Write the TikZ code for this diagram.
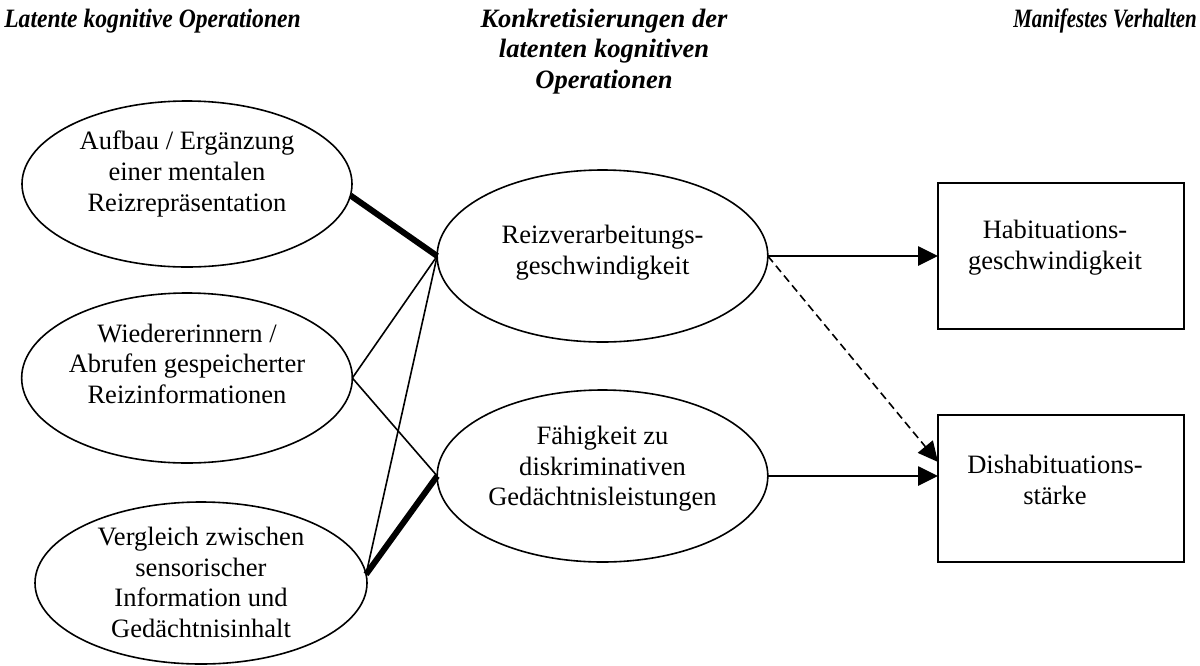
\documentclass[tikz,border=0pt]{standalone}
\usepackage{fontspec}
\usepackage{graphicx}
\setmainfont{Liberation Serif}
\usetikzlibrary{shapes.geometric,arrows.meta}
\newcommand{\ctext}[3]{\smash{\raisebox{#2}{\makebox[0pt]{\hspace*{#1}\begin{tabular}{@{}c@{}}#3\end{tabular}}}}}
\begin{document}
\begin{tikzpicture}[x=0.75pt,y=-0.75pt,
  font=\fontsize{19.9pt}{22.9pt}\selectfont,
  oval/.style={ellipse, draw, line width=1.2pt, inner sep=0pt, outer sep=0pt},
  box/.style={rectangle, draw, line width=1.2pt, inner sep=0pt, outer sep=0pt},
  head/.style={font=\fontsize{19.9pt}{22.9pt}\selectfont\bfseries\itshape, inner sep=0pt},
  link/.style={line width=1.2pt},
  strong/.style={line width=4.5pt},
  arrow/.style={line width=1.2pt, -{Triangle[length=15pt,width=14.5pt]}},
  dasharrow/.style={arrow, dash pattern=on 6pt off 3.5pt}]
\useasboundingbox (0,0) rectangle (1200,665);

% headers
\node[head, anchor=base west] (h1) at (4,27) {\scalebox{0.89}[1]{Latente kognitive Operationen}};
\node[head, anchor=base] (h2) at (604,27) {\begin{tabular}[t]{@{}c@{}}Konkretisierungen der\\latenten kognitiven\\Operationen\end{tabular}};
\node[head, anchor=base east] (h3) at (1197,27) {\scalebox{0.79}[1]{Manifestes Verhalten}};

% latent operations
\node[oval, minimum width=247.5pt, minimum height=124.5pt] (e1) at (187,184)
  {\ctext{0pt}{2pt}{Aufbau / Ergänzung\\einer mentalen\\Reizrepräsentation}};
\node[oval, minimum width=248pt, minimum height=127.5pt] (e2) at (187,378)
  {\ctext{0pt}{3.3pt}{Wiedererinnern /\\Abrufen gespeicherter\\Reizinformationen}};
\node[oval, minimum width=249pt, minimum height=121.5pt] (e3) at (201,583)
  {\ctext{0pt}{-7pt}{Vergleich zwischen\\sensorischer\\Information und\\Gedächtnisinhalt}};

% concretisations
\node[oval, minimum width=248pt, minimum height=129pt] (e4) at (602.5,256)
  {\ctext{0pt}{-2.7pt}{Reizverarbeitungs-\\geschwindigkeit}};
\node[oval, minimum width=248pt, minimum height=129pt] (e5) at (602.5,476)
  {\ctext{0pt}{0pt}{Fähigkeit zu\\diskriminativen\\Gedächtnisleistungen}};

% manifest behaviour
\node[box, minimum width=184.5pt, minimum height=109.5pt] (b1) at (1061,256)
  {\ctext{-9pt}{1pt}{Habituations-\\geschwindigkeit}};
\node[box, minimum width=184.5pt, minimum height=110.25pt] (b2) at (1061,488.5)
  {\ctext{-9pt}{-0.8pt}{Dishabituations-\\stärke}};

% connectors
\draw[strong] (e1.-4) -- (e4.west);
\draw[link] (e2.east) -- (e4.west);
\draw[link] (e2.east) -- (e5.west);
\draw[link] (e3.3.5) -- (e4.west);
\draw[strong] (e3.3.5) -- (e5.west);

\draw[arrow] (e4.east) -- (b1.west);
\draw[arrow] (e5.east) -- (e5.east -| b2.west);
\draw[dasharrow] (e4.east) -- ([yshift=19.9pt]b2.west);
\end{tikzpicture}
\end{document}
